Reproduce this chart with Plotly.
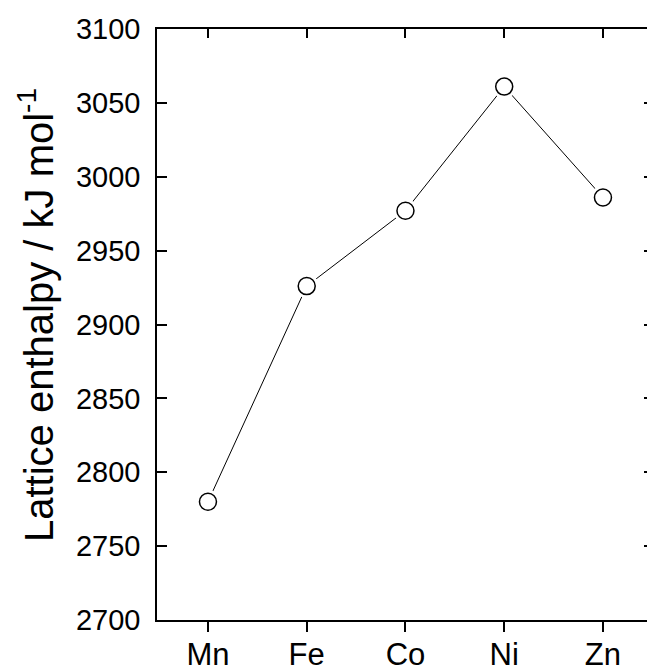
import plotly.graph_objects as go

metals = ["Mn", "Fe", "Co", "Ni", "Zn"]
lattice_enthalpy = [2780, 2926, 2977, 3061, 2986]
y_ticks = [2700, 2750, 2800, 2850, 2900, 2950, 3000, 3050, 3100]
y_title = "Lattice enthalpy / kJ mol<sup>-1</sup>"

xpos = list(range(len(metals)))

fig = go.Figure()
# connecting line
fig.add_trace(go.Scatter(x=xpos, y=lattice_enthalpy, mode="lines",
                         line=dict(color="black", width=1), showlegend=False,
                         hoverinfo="skip"))
# white halo to create gap between line and markers
fig.add_trace(go.Scatter(x=xpos, y=lattice_enthalpy, mode="markers",
                         marker=dict(size=24, color="white", line=dict(width=0)),
                         showlegend=False, hoverinfo="skip"))
# open circle markers
fig.add_trace(go.Scatter(x=xpos, y=lattice_enthalpy, mode="markers",
                         marker=dict(size=17, color="white",
                                     line=dict(color="black", width=1.5)),
                         showlegend=False))
# dummy traces for top / right axes
fig.add_trace(go.Scatter(x=xpos, y=lattice_enthalpy, xaxis="x2", mode="none",
                         showlegend=False, hoverinfo="skip"))
fig.add_trace(go.Scatter(x=xpos, y=lattice_enthalpy, yaxis="y2", mode="none",
                         showlegend=False, hoverinfo="skip"))

xrange = [-0.516, 4.446]
yrange = [2700, 3100]

fig.update_layout(
    width=647, height=668,
    margin=dict(l=157, r=0, t=29, b=48, autoexpand=False),
    paper_bgcolor="white", plot_bgcolor="white",
    font=dict(family="Liberation Sans, Arial, sans-serif", color="black"),
    xaxis=dict(
        range=xrange, tickmode="array", tickvals=xpos, ticktext=metals,
        ticks="outside", ticklen=10, tickwidth=1.5, tickcolor="black",
        showline=True, linecolor="black", linewidth=1.5,
        showgrid=False, zeroline=False,
        tickfont=dict(size=31), ticklabelstandoff=-4,
    ),
    xaxis2=dict(
        range=xrange, overlaying="x", side="top", tickmode="array",
        tickvals=xpos, ticks="inside", ticklen=9, tickwidth=1.5,
        tickcolor="black", showticklabels=False, showline=True,
        linecolor="black", linewidth=1.5, showgrid=False, zeroline=False,
    ),
    yaxis=dict(
        range=yrange, tickmode="array", tickvals=y_ticks,
        ticktext=[str(v) for v in y_ticks],
        ticks="inside", ticklen=10, tickwidth=1.5, tickcolor="black",
        showline=True, linecolor="black", linewidth=1.5,
        showgrid=False, zeroline=False,
        tickfont=dict(size=29), ticklabelstandoff=9,
    ),
    yaxis2=dict(
        range=yrange, overlaying="y", side="right", tickmode="array",
        tickvals=y_ticks, ticks="inside", ticklen=3, tickwidth=1.5,
        tickcolor="black", showticklabels=False, showline=False,
        showgrid=False, zeroline=False,
    ),
    annotations=[dict(
        text=y_title, textangle=-90, showarrow=False,
        xref="paper", yref="paper", x=-0.247, y=0.516,
        xanchor="center", yanchor="middle", font=dict(size=40),
    )],
)

fig.write_html(
    "out.html",
    config={"displayModeBar": False},
    post_script="document.body.style.margin='0px';document.body.style.overflow='hidden';",
)
